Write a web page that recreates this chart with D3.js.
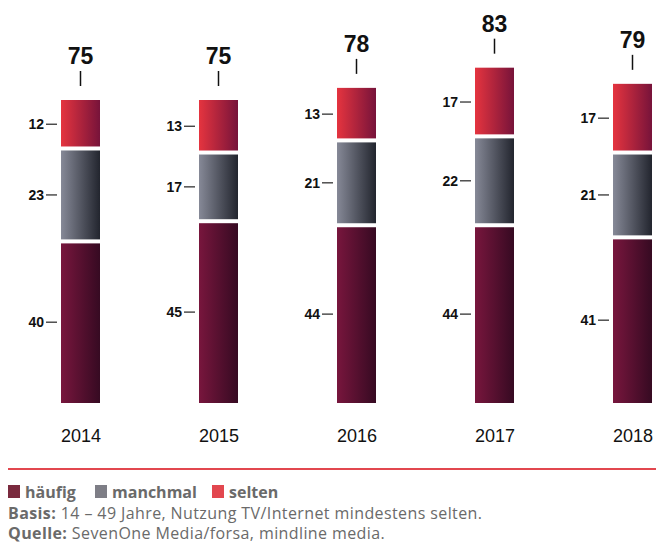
<!DOCTYPE html>
<html><head><meta charset="utf-8">
<script src="https://cdn.jsdelivr.net/npm/d3@7"></script>
<style>
html,body{margin:0;padding:0;background:#fff;}
svg{display:block;}
</style></head>
<body>
<svg id="chart" width="656" height="544"></svg>
<script>
const years = ["2014", "2015", "2016", "2017", "2018"];
const haeufig = [40, 45, 44, 44, 41];
const manchmal = [23, 17, 21, 22, 21];
const selten = [12, 13, 13, 17, 17];
const totals = [75, 75, 78, 83, 79];
const seriesNames = ["häufig", "manchmal", "selten"];
const legendColors = ["#7a2a3e", "#7e7e86", "#e2474f"];
const gradStops = [["#78163d", "#360a22"], ["#868997", "#22252e"], ["#e5343f", "#77133a"]];

const svg = d3.select("#chart");
const fontMain = "'Liberation Sans', Arial, sans-serif";
const fontFoot = "'Open Sans', sans-serif";

const x = d3.scalePoint().domain(years).range([80.5, 632.5]);
const y = d3.scaleLinear().domain([0, 100]).range([403, -1]);
const bw = 39;

const defs = svg.append("defs");
gradStops.forEach((s, i) => {
  const g = defs.append("linearGradient").attr("id", "g" + i)
    .attr("x1", "0%").attr("x2", "100%").attr("y1", "0%").attr("y2", "0%");
  g.append("stop").attr("offset", "0%").attr("stop-color", s[0]);
  g.append("stop").attr("offset", "100%").attr("stop-color", s[1]);
});

const seriesData = [haeufig, manchmal, selten];
const stack = years.map((yr, i) => {
  let cum = 0;
  return seriesData.map((arr, k) => {
    const seg = { year: yr, k: k, v: arr[i], y0: cum, y1: cum + arr[i] };
    cum += arr[i];
    return seg;
  });
});

const bars = svg.append("g");
stack.forEach((segs, i) => {
  const g = bars.append("g");
  segs.forEach(s => {
    const top = y(s.y1), bot = y(s.y0);
    const t = s.k === 2 ? top : top + 2;
    const b = s.k === 0 ? bot : bot - 2;
    g.append("rect")
      .attr("x", x(s.year) - bw / 2).attr("width", bw)
      .attr("y", t).attr("height", b - t)
      .attr("fill", `url(#g${s.k})`);
    const my = (top + bot) / 2;
    g.append("line")
      .attr("x1", x(s.year) - bw / 2 - 15).attr("x2", x(s.year) - bw / 2 - 4)
      .attr("y1", my).attr("y2", my)
      .attr("stroke", "#333").attr("stroke-width", 1.3);
    g.append("text")
      .attr("x", x(s.year) - bw / 2 - 17).attr("y", my)
      .attr("dy", "0.36em")
      .attr("text-anchor", "end")
      .attr("font-family", fontMain).attr("font-weight", "bold")
      .attr("font-size", 14).attr("fill", "#111")
      .text(s.v);
  });
  const topY = y(totals[i]);
  g.append("line")
    .attr("x1", x(years[i])).attr("x2", x(years[i]))
    .attr("y1", topY - 29).attr("y2", topY - 14)
    .attr("stroke", "#111").attr("stroke-width", 1.5);
  g.append("text")
    .attr("x", x(years[i])).attr("y", topY - 36)
    .attr("text-anchor", "middle")
    .attr("font-family", fontMain).attr("font-weight", "bold")
    .attr("font-size", 23).attr("fill", "#111")
    .text(totals[i]);
});

// year axis labels
const xAxis = d3.axisBottom(x).tickSize(0).tickPadding(0);
const ax = svg.append("g").attr("transform", "translate(0,429)").call(xAxis);
ax.select(".domain").remove();
ax.selectAll("text")
  .attr("font-family", fontMain).attr("font-size", 18).attr("fill", "#111")
  .attr("dy", "0.71em");

// red rule
svg.append("line").attr("x1", 8).attr("x2", 656).attr("y1", 469).attr("y2", 469)
  .attr("stroke", "#e2474f").attr("stroke-width", 2);

// legend
const legX = [8, 95, 212];
const leg = svg.append("g");
seriesNames.forEach((n, i) => {
  leg.append("rect").attr("x", legX[i]).attr("y", 485).attr("width", 12).attr("height", 13)
    .attr("fill", legendColors[i]);
  leg.append("text").attr("x", legX[i] + 17).attr("y", 498)
    .attr("font-family", fontFoot).attr("font-weight", "bold").attr("font-size", 16)
    .attr("fill", "#6a6a6a").text(n);
});

const foot = [["Basis:", " 14 – 49 Jahre, Nutzung TV/Internet mindestens selten.", 519],
              ["Quelle:", " SevenOne Media/forsa, mindline media.", 539]];
foot.forEach(f => {
  const t = svg.append("text").attr("x", 8).attr("y", f[2])
    .attr("font-family", fontFoot).attr("font-size", 16).attr("letter-spacing", 0.4)
    .attr("fill", "#6a6a6a");
  t.append("tspan").attr("font-weight", "bold").text(f[0]);
  t.append("tspan").text(f[1]);
});
</script>
</body></html>
